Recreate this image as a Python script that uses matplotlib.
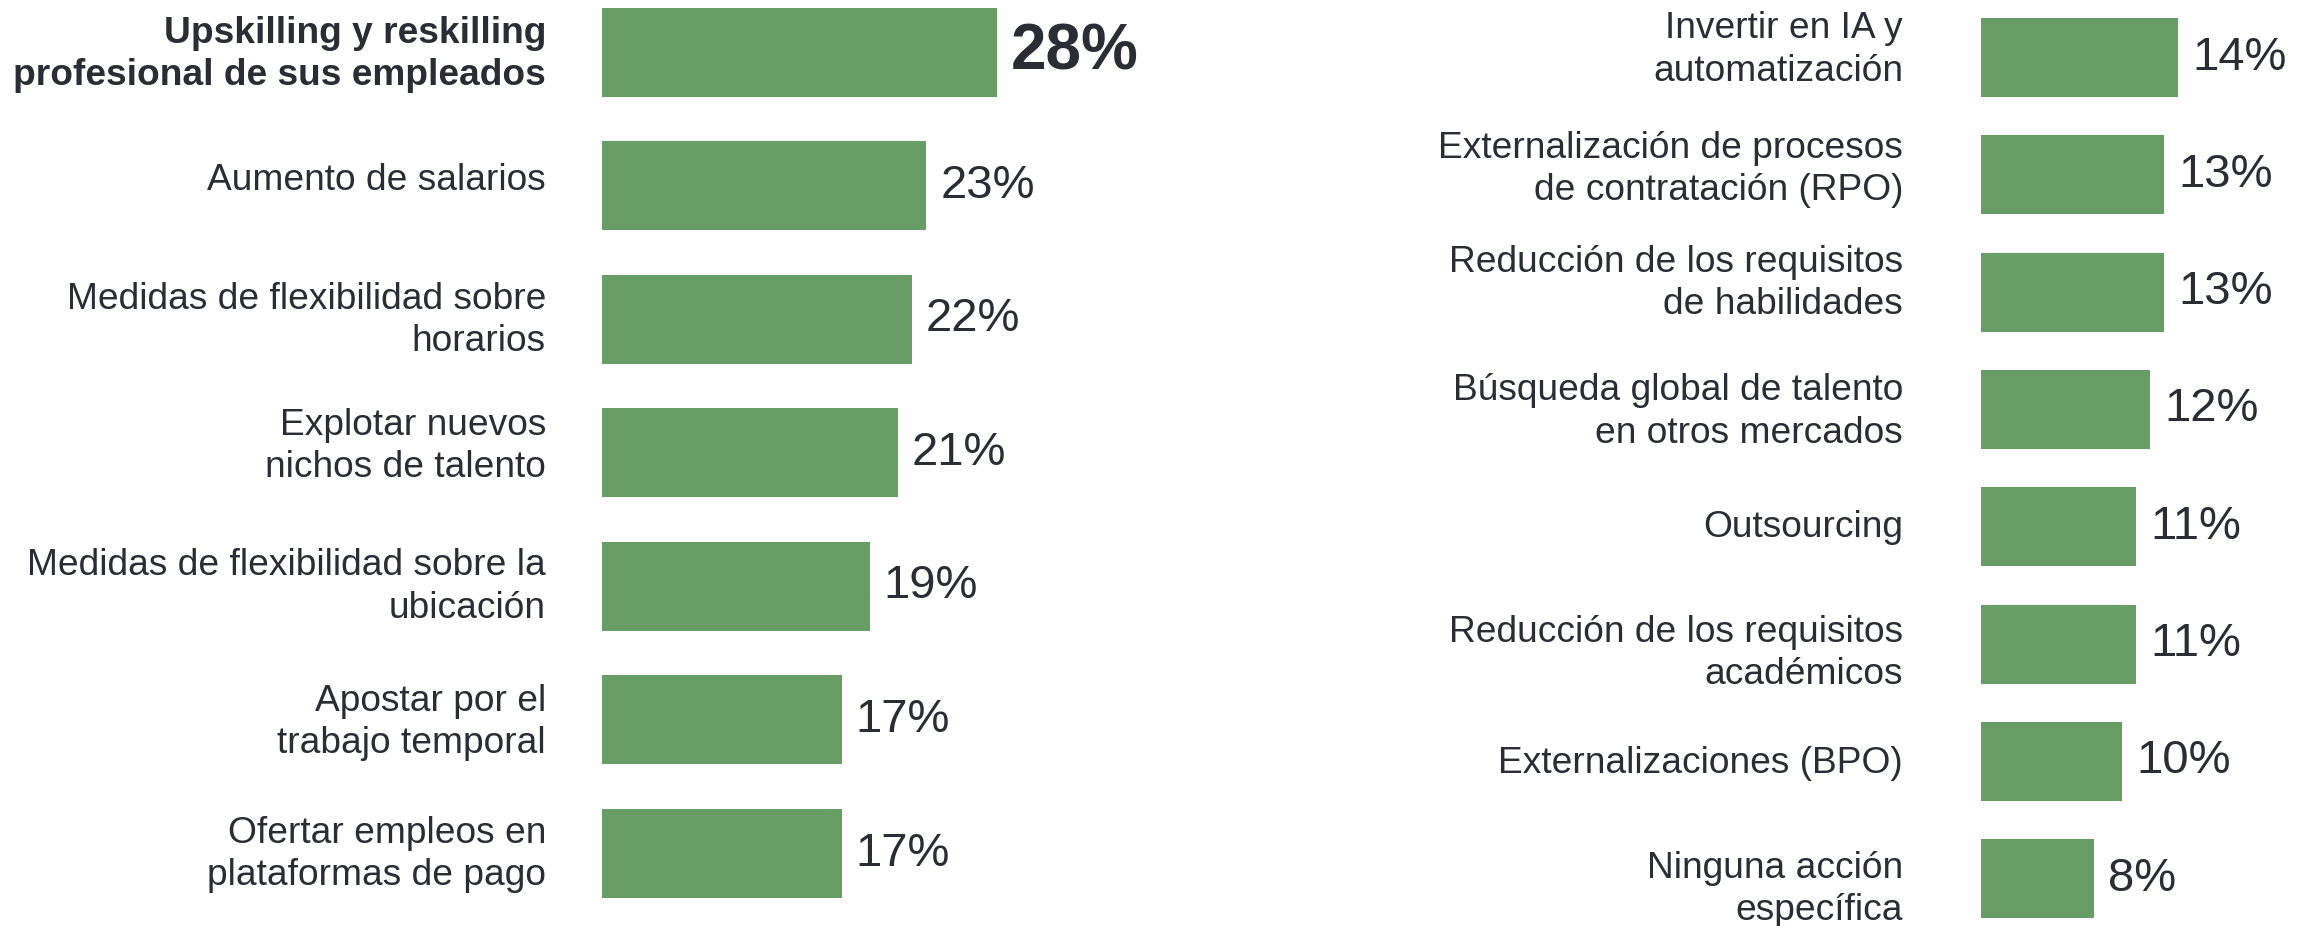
import matplotlib
matplotlib.use("Agg")
import matplotlib.pyplot as plt

plt.rcParams['font.family'] = ['Liberation Sans', 'DejaVu Sans']

# ---------------- data ----------------
left_labels = [
    "Upskilling y reskilling\nprofesional de sus empleados",
    "Aumento de salarios",
    "Medidas de flexibilidad sobre\nhorarios",
    "Explotar nuevos\nnichos de talento",
    "Medidas de flexibilidad sobre la\nubicación",
    "Apostar por el\ntrabajo temporal",
    "Ofertar empleos en\nplataformas de pago",
]
left_values = [28, 23, 22, 21, 19, 17, 17]

right_labels = [
    "Invertir en IA y\nautomatización",
    "Externalización de procesos\nde contratación (RPO)",
    "Reducción de los requisitos\nde habilidades",
    "Búsqueda global de talento\nen otros mercados",
    "Outsourcing",
    "Reducción de los requisitos\nacadémicos",
    "Externalizaciones (BPO)",
    "Ninguna acción\nespecífica",
]
right_values = [14, 13, 13, 12, 11, 11, 10, 8]

# ---------------- style ----------------
BAR_COLOR = "#689e66"
TEXT_COLOR = "#2a2d34"
W, H = 2313, 926
PX_PER_UNIT = 14.1
# vertical nudges of the category labels (pixels, negative = up)
left_nudge = [-5, -9, -6, -14, -7, -5, -7]
right_nudge = [-15, -13, -16, -5, -3, 2, -2, 3]

fig = plt.figure(figsize=(W / 100, H / 100), dpi=100)
fig.patch.set_facecolor("white")


def panel(x0, width_px, first_center, spacing, bar_px, labels, values,
          label_pad_px, nudges, highlight_first):
    ax = fig.add_axes([x0 / W, 0, width_px / W, 1])
    n = len(values)
    pos = list(range(n))
    ax.barh(pos, values, height=bar_px / spacing, color=BAR_COLOR,
            edgecolor="none")
    ax.set_xlim(0, width_px / PX_PER_UNIT)
    top = -first_center / spacing
    bottom = (H - first_center) / spacing
    ax.set_ylim(bottom, top)
    ax.set_xticks([])
    ax.set_yticks([])
    for s in ax.spines.values():
        s.set_visible(False)
    for i, (lab, v) in enumerate(zip(labels, values)):
        bold = highlight_first and i == 0
        ax.annotate(lab, xy=(0, i), xytext=(-label_pad_px * 0.72, -nudges[i] * 0.72),
                    textcoords="offset points", ha="right", va="center_baseline",
                    multialignment="right", linespacing=1.27,
                    fontsize=26.7, fontweight="bold" if bold else "normal",
                    color=TEXT_COLOR, annotation_clip=False)
        ax.annotate(f"{v}%", xy=(v, i), xytext=(10, 0),
                    textcoords="offset points", va="center", ha="left",
                    fontsize=46 if bold else 34,
                    fontweight="bold" if bold else "normal",
                    color=TEXT_COLOR)
    return ax


panel(602, 640, 52, 133.6, 89, left_labels, left_values, 56, left_nudge, True)
panel(1981, 332, 57.5, 117.3, 79, right_labels, right_values, 78, right_nudge, False)

fig.savefig("out.png", dpi=100, facecolor="white")
